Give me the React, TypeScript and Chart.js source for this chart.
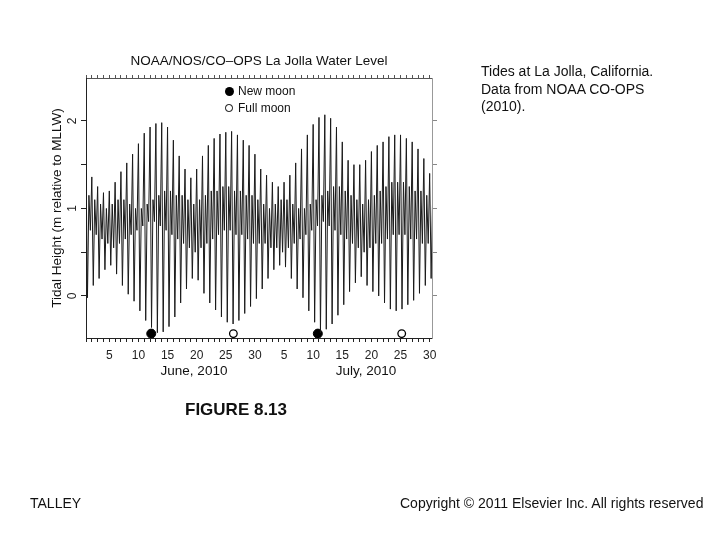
import React, { useEffect, useRef } from "react";
import { Chart, registerables } from "chart.js";

Chart.register(...registerables);

// Daily tide extremes, La Jolla, June 1 (day 1) – July 30 (day 60), 2010 (metres, MLLW)
const higherHigh = [
  1.5, 1.36, 1.25, 1.18, 1.2, 1.3, 1.42, 1.52, 1.62, 1.74,
  1.86, 1.93, 1.97, 1.98, 1.93, 1.78, 1.6, 1.45, 1.35, 1.45,
  1.6, 1.72, 1.8, 1.85, 1.87, 1.88, 1.84, 1.78, 1.72, 1.62,
  1.45, 1.38, 1.3, 1.25, 1.3, 1.38, 1.52, 1.68, 1.84, 1.96,
  2.04, 2.07, 2.03, 1.93, 1.76, 1.55, 1.5, 1.5, 1.55, 1.65,
  1.72, 1.76, 1.82, 1.84, 1.84, 1.8, 1.76, 1.68, 1.57, 1.4,
];
const lowerLow = [
  -0.02, 0.12, 0.2, 0.3, 0.35, 0.25, 0.12, 0.02, -0.06, -0.17,
  -0.28, -0.36, -0.42, -0.41, -0.35, -0.24, -0.08, 0.08, 0.2, 0.18,
  0.03, -0.08, -0.16, -0.24, -0.3, -0.32, -0.28, -0.2, -0.12, -0.03,
  0.08, 0.2, 0.3, 0.35, 0.33, 0.2, 0.08, -0.02, -0.17, -0.3,
  -0.42, -0.38, -0.32, -0.22, -0.1, 0.05, 0.15, 0.22, 0.12, 0.05,
  0.0, -0.08, -0.15, -0.17, -0.15, -0.1, -0.05, 0.03, 0.12, 0.2,
];
const lowerHigh = [
  1.15, 1.1, 1.05, 1.0, 1.05, 1.1, 1.1, 1.05, 1.0, 1.0,
  1.05, 1.1, 1.15, 1.2, 1.2, 1.15, 1.15, 1.1, 1.05, 1.1,
  1.15, 1.2, 1.2, 1.25, 1.25, 1.2, 1.2, 1.15, 1.15, 1.1,
  1.05, 1.0, 1.05, 1.1, 1.1, 1.05, 1.0, 1.0, 1.05, 1.1,
  1.15, 1.2, 1.25, 1.25, 1.2, 1.15, 1.1, 1.05, 1.1, 1.15,
  1.2, 1.25, 1.3, 1.3, 1.3, 1.25, 1.2, 1.2, 1.15, 1.1,
];
const higherLow = [
  0.75, 0.7, 0.65, 0.6, 0.55, 0.6, 0.65, 0.7, 0.75, 0.8,
  0.85, 0.85, 0.8, 0.75, 0.7, 0.65, 0.6, 0.55, 0.5, 0.55,
  0.6, 0.65, 0.7, 0.75, 0.75, 0.7, 0.7, 0.65, 0.6, 0.6,
  0.6, 0.55, 0.55, 0.5, 0.55, 0.6, 0.65, 0.7, 0.75, 0.8,
  0.85, 0.8, 0.75, 0.7, 0.65, 0.6, 0.55, 0.5, 0.55, 0.6,
  0.6, 0.65, 0.7, 0.7, 0.7, 0.65, 0.65, 0.6, 0.6, 0.55,
];
// Fraction of the day at which each extreme occurs: HH, LL, LH, HL
const eventOffsets = [0, 0.25, 0.5, 0.75];

const newMoonDays = [12.2, 40.8];
const fullMoonDays = [26.3, 55.2];
const moonMarkerLevel = -0.43;

const labelledHeights = [0, 1, 2];
const daysInJune = 30;

const chartTitle = "NOAA/NOS/CO\u2013OPS La Jolla Water Level";
const yTitle = "Tidal Height (m relative to MLLW)";
const monthLabels = ["June, 2010", "July, 2010"];
const legendLabels = ["New moon", "Full moon"];
const captionLines = ["Tides at La Jolla, California.", "Data from NOAA CO-OPS", "(2010)."];

const FONT = '"Liberation Sans", Arial, Helvetica, sans-serif';

export default function App() {
  const canvasRef = useRef<HTMLCanvasElement | null>(null);

  useEffect(() => {
    const canvas = canvasRef.current;
    if (!canvas) return;

    const tidePoints: { x: number; y: number }[] = [];
    higherHigh.forEach((hh, i) => {
      const day = i + 1;
      const vals = [hh, lowerLow[i], lowerHigh[i], higherLow[i]];
      vals.forEach((v, k) => tidePoints.push({ x: day + eventOffsets[k], y: v }));
    });

    const yMin = -0.48;
    const yMax = 2.49;
    const xMin = 1;
    const xMax = 60.4;

    const chart = new Chart(canvas, {
      type: "line",
      data: {
        datasets: [
          {
            label: "Water level",
            data: tidePoints,
            borderColor: "#1a1a1a",
            borderWidth: 1,
            pointRadius: 0,
            tension: 0,
            xAxisID: "x",
            yAxisID: "y",
          },
          {
            label: legendLabels[0],
            data: newMoonDays.map((d) => ({ x: d, y: moonMarkerLevel })),
            showLine: false,
            pointRadius: 4.5,
            pointBackgroundColor: "#000",
            pointBorderColor: "#000",
            pointBorderWidth: 1,
            xAxisID: "x",
            yAxisID: "y",
          },
          {
            label: legendLabels[1],
            data: fullMoonDays.map((d) => ({ x: d, y: moonMarkerLevel })),
            showLine: false,
            pointRadius: 3.8,
            pointBackgroundColor: "#fff",
            pointBorderColor: "#000",
            pointBorderWidth: 1.3,
            xAxisID: "x",
            yAxisID: "y",
          },
        ],
      },
      options: {
        responsive: false,
        animation: false,
        devicePixelRatio: 1,
        events: [],
        layout: { padding: { left: 40, right: 242, top: 38, bottom: 172 } },
        plugins: {
          legend: { display: false },
          tooltip: { enabled: false },
          title: {
            display: true,
            text: chartTitle,
            color: "#111",
            font: { family: FONT, size: 13.5, weight: "normal", lineHeight: 1.2 },
            padding: { top: 15, bottom: 0 },
          },
        },
        scales: {
          x: {
            type: "linear",
            position: "bottom",
            min: xMin,
            max: xMax,
            afterFit: (s: any) => {
              s.height = 30;
            },
            border: { display: true, color: "#222", width: 1 },
            grid: { drawOnChartArea: false, drawTicks: true, tickLength: 4, color: "#222" },
            ticks: {
              stepSize: 1,
              autoSkip: false,
              includeBounds: false,
              maxRotation: 0,
              minRotation: 0,
              padding: 6,
              color: "#222",
              font: { family: FONT, size: 12 },
              callback: (v: any) => {
                const n = Number(v);
                if (n % 5 !== 0) return "";
                return String(n <= daysInJune ? n : n - daysInJune);
              },
            },
          },
          x2: {
            type: "linear",
            position: "top",
            min: xMin,
            max: xMax,
            afterFit: (s: any) => {
              s.height = 8.8;
            },
            border: { display: true, color: "#555", width: 1 },
            grid: { drawOnChartArea: false, drawTicks: true, tickLength: 3, color: "#555" },
            ticks: {
              stepSize: 1,
              autoSkip: false,
              includeBounds: false,
              padding: 0,
              callback: () => "",
            },
          },
          y: {
            type: "linear",
            position: "left",
            min: yMin,
            max: yMax,
            afterFit: (s: any) => {
              s.width = 46;
            },
            border: { display: true, color: "#222", width: 1 },
            grid: { drawOnChartArea: false, drawTicks: true, tickLength: 5, color: "#222" },
            ticks: {
              stepSize: 0.5,
              includeBounds: false,
              minRotation: 90,
              maxRotation: 90,
              crossAlign: "center",
              padding: 5,
              color: "#222",
              font: { family: FONT, size: 12 },
              callback: (v: any) => (labelledHeights.includes(Number(v)) ? String(v) : ""),
            },
            title: {
              display: true,
              text: yTitle,
              color: "#111",
              font: { family: FONT, size: 13.5, lineHeight: 1.2 },
              padding: { top: 9, bottom: 0 },
            },
          },
          y2: {
            type: "linear",
            position: "right",
            min: yMin,
            max: yMax,
            afterFit: (s: any) => {
              s.width = 46;
            },
            border: { display: true, color: "#999", width: 1 },
            grid: { drawOnChartArea: false, drawTicks: true, tickLength: 5, color: "#888" },
            ticks: {
              stepSize: 0.5,
              includeBounds: false,
              callback: () => "",
            },
          },
        },
      },
    } as any);

    return () => chart.destroy();
  }, []);

  const abs = (extra: React.CSSProperties): React.CSSProperties => ({
    position: "absolute",
    fontFamily: FONT,
    color: "#111",
    whiteSpace: "nowrap",
    ...extra,
  });

  return (
    <div
      style={{
        position: "absolute",
        left: 0,
        top: 0,
        width: 720,
        height: 540,
        background: "#fff",
        overflow: "hidden",
      }}
    >
      <canvas
        ref={canvasRef}
        width={720}
        height={540}
        style={{ position: "absolute", left: 0, top: 0, width: 720, height: 540 }}
      />
      {/* legend */}
      <div
        style={{
          position: "absolute",
          left: 224.5,
          top: 86.5,
          width: 9,
          height: 9,
          borderRadius: "50%",
          background: "#000",
        }}
      />
      <div
        style={{
          position: "absolute",
          left: 225,
          top: 104,
          width: 5.5,
          height: 5.5,
          borderRadius: "50%",
          background: "#fff",
          border: "1.3px solid #000",
        }}
      />
      <div style={abs({ left: 238, top: 84, fontSize: 12, lineHeight: "14px" })}>{legendLabels[0]}</div>
      <div style={abs({ left: 238, top: 101, fontSize: 12, lineHeight: "14px" })}>{legendLabels[1]}</div>
      {/* month labels */}
      <div style={abs({ left: 134, top: 363, width: 120, textAlign: "center", fontSize: 13.5, lineHeight: "16px" })}>
        {monthLabels[0]}
      </div>
      <div style={abs({ left: 306, top: 363, width: 120, textAlign: "center", fontSize: 13.5, lineHeight: "16px" })}>
        {monthLabels[1]}
      </div>
      {/* caption */}
      <div style={abs({ left: 481, top: 63, fontSize: 14, lineHeight: "17.5px" })}>
        {captionLines.map((l, i) => (
          <div key={i}>{l}</div>
        ))}
      </div>
      <div style={abs({ left: 185, top: 400, fontSize: 17, lineHeight: "20px", fontWeight: "bold" })}>FIGURE 8.13</div>
      <div style={abs({ left: 30, top: 494, fontSize: 14, lineHeight: "18px" })}>TALLEY</div>
      <div style={abs({ left: 400, top: 494, fontSize: 14, lineHeight: "18px" })}>
        Copyright © 2011 Elsevier Inc. All rights reserved
      </div>
    </div>
  );
}
